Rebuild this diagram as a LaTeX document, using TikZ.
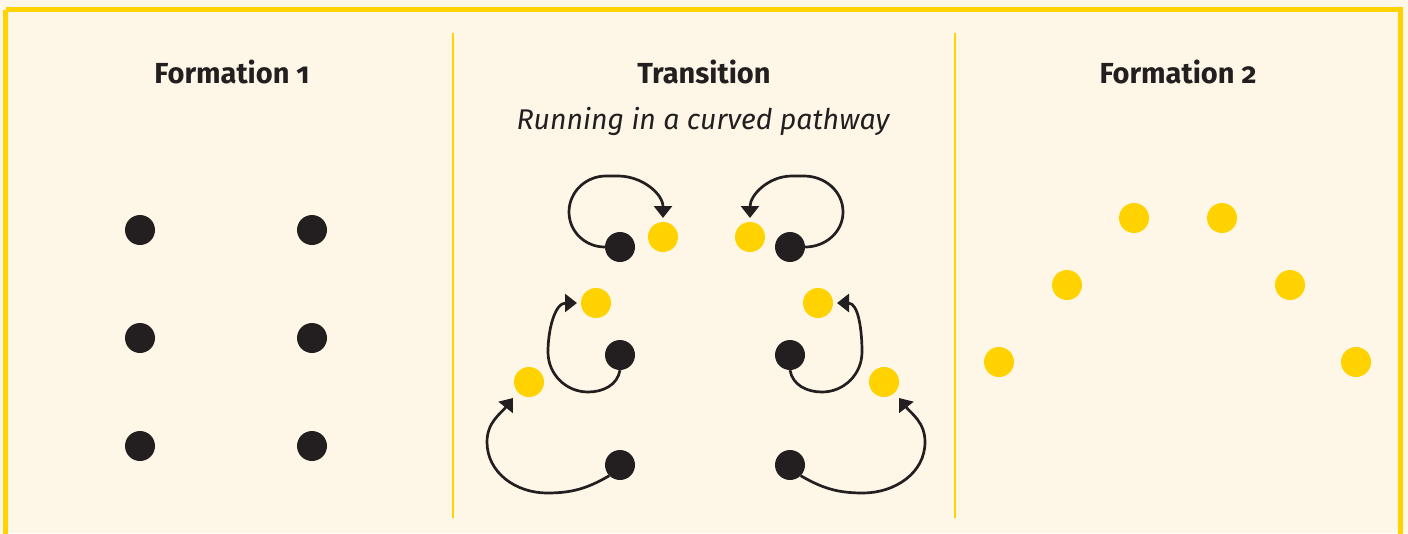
\documentclass[tikz,border=0pt]{standalone}
\usepackage{fontspec}
\setmainfont[Numbers=OldStyle]{Fira Sans}
\usetikzlibrary{arrows.meta}
\definecolor{cream}{HTML}{FEF7E7}
\definecolor{gold}{HTML}{FFD200}
\definecolor{ink}{HTML}{231F20}
\tikzset{
  bdot/.style={circle,fill=ink,minimum size=30pt,inner sep=0pt},
  ydot/.style={circle,fill=gold,minimum size=30pt,inner sep=0pt},
  title/.style={font=\bfseries\fontsize{29}{32}\selectfont,text=ink},
  sub/.style={font=\itshape\fontsize{28.5}{32}\selectfont,text=ink},
  path/.style={draw=ink,line width=2.7pt,-{Triangle[width=18pt,length=12pt]}},
  divider/.style={draw=gold,line width=2pt}
}
\begin{document}
\begin{tikzpicture}[x=1pt,y=-1pt]
\useasboundingbox (0,0) rectangle (1408,533);
\fill[cream] (0,0) rectangle (1408,533);
\draw[gold,line width=5pt] (5.5,9.5) -- (1400.5,9.5) -- (1400.5,560) (5.5,9.5) -- (5.5,560);
\coordinate (d1t) at (453,33); \coordinate (d1b) at (453,518);
\coordinate (d2t) at (955,33); \coordinate (d2b) at (955,518);
\draw[divider] (d1t) -- (d1b);
\draw[divider] (d2t) -- (d2b);
% titles
\node[title] (t1) at (232,72) {Formation 1};
\node[title] (t2) at (704,72) {Transition};
\node[title] (t3) at (1178,72) {Formation 2};
\node[sub] (s2) at (703,121) {Running in a curved pathway};
% formation 1
\node[bdot] (f11) at (140,230) {};
\node[bdot] (f12) at (312,230) {};
\node[bdot] (f13) at (140,338) {};
\node[bdot] (f14) at (312,338) {};
\node[bdot] (f15) at (140,446) {};
\node[bdot] (f16) at (312,446) {};
% transition
\node[bdot] (b1) at (620,247) {};
\node[bdot] (b2) at (790,247) {};
\node[bdot] (b3) at (620,355) {};
\node[bdot] (b4) at (790,355) {};
\node[bdot] (b5) at (620,465) {};
\node[bdot] (b6) at (790,465) {};
\node[ydot] (y1) at (663,237) {};
\node[ydot] (y2) at (750,237) {};
\node[ydot] (y3) at (596,303) {};
\node[ydot] (y4) at (818,303) {};
\node[ydot] (y5) at (529,382) {};
\node[ydot] (y6) at (884,382) {};
% curves
\draw[path] (b1.west) to[out=180,in=-90] (569,212) to[out=90,in=180] (606,176) -- (618,176) to[out=0,in=90] (y1.north |- 0,218);
\draw[path] (b2.east) to[out=0,in=-90] (843,212) to[out=90,in=0] (804,176) -- (792,176) to[out=180,in=90] (y2.north |- 0,218);
\draw[path] (b3.south) to[out=-100,in=0] (588,392) to[out=180,in=-90] (548,352) to[out=90,in=180] (577,303);
\draw[path] (b4.south) to[out=-80,in=180] (822,392) to[out=0,in=-90] (862,352) to[out=90,in=0] (837,303);
\draw[path] (b5.south west) to[out=-150,in=0] (547,493) to[out=180,in=-90] (487,442) to[out=90,in=-128] (513,398);
\draw[path] (b6.south east) to[out=-30,in=180] (863,493) to[out=0,in=-90] (925,442) to[out=90,in=-52] (899,398);
% formation 2
\node[ydot] (g1) at (1134,218) {};
\node[ydot] (g2) at (1222,218) {};
\node[ydot] (g3) at (1067,285) {};
\node[ydot] (g4) at (1290,285) {};
\node[ydot] (g5) at (999,362) {};
\node[ydot] (g6) at (1356,362) {};
\end{tikzpicture}
\end{document}
